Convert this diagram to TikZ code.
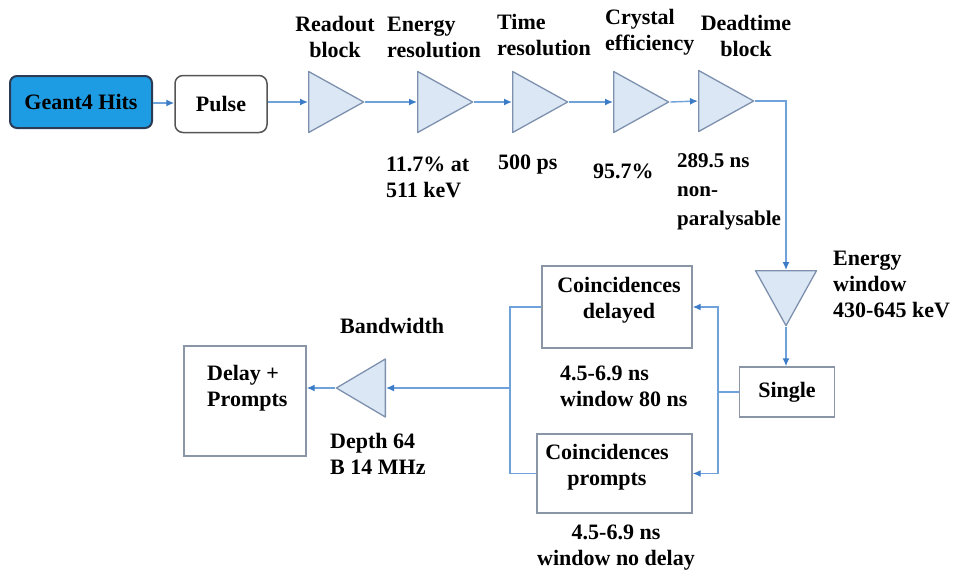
\documentclass[tikz,border=0pt]{standalone}
\usepackage{fontspec}
\setmainfont{Liberation Serif}
\usetikzlibrary{shapes.geometric,arrows.meta}
\definecolor{lineblue}{HTML}{6FA2DA}
\definecolor{headblue}{HTML}{3C7BC6}
\definecolor{trifill}{HTML}{DCE7F5}
\definecolor{tribord}{HTML}{7D90AD}
\definecolor{boxgrey}{HTML}{8A96A6}
\definecolor{geantblue}{HTML}{1E9CE3}
\definecolor{geantbord}{HTML}{2B3A55}
\definecolor{pulsebord}{HTML}{555555}
\begin{document}
\begin{tikzpicture}[x=1pt,y=-1pt,
  font=\fontsize{22}{26}\selectfont\bfseries,
  conn/.style={draw=lineblue, line width=1.4pt},
  arr/.style={conn, -{Latex[length=8pt,width=7pt,color=headblue]}},
  tri/.style={draw=tribord, fill=trifill, line width=1.3pt, isosceles triangle,
    isosceles triangle stretches, inner sep=0pt, line join=round},
  hbox/.style={draw=boxgrey, line width=1.4pt, rectangle, inner sep=0pt},
  lbl/.style={align=left, inner sep=0pt, anchor=west},
  clbl/.style={align=center, inner sep=0pt}
]
\useasboundingbox (0,0) rectangle (956,571);

% start boxes
\node[draw=geantbord, fill=geantblue, line width=2pt, rounded corners=7pt,
  minimum width=142pt, minimum height=52pt, inner sep=0pt] (g4) at (81,102) {Geant4 Hits};
\node[draw=pulsebord, line width=1.5pt, rounded corners=8pt,
  minimum width=92pt, minimum height=57pt, inner sep=0pt] (pulse) at (221,104) {Pulse};

% triangle chain
\node[tri, minimum width=61pt, minimum height=55pt, anchor=west] (t1) at (308,102) {};
\node[tri, minimum width=61pt, minimum height=55pt, anchor=west] (t2) at (417,102) {};
\node[tri, minimum width=61pt, minimum height=55pt, anchor=west] (t3) at (512,102) {};
\node[tri, minimum width=61pt, minimum height=55pt, anchor=west] (t4) at (613,102) {};
\node[tri, minimum width=61pt, minimum height=55pt, anchor=west] (t5) at (698,101) {};

% energy window triangle (pointing down)
\node[tri, shape border rotate=270, minimum width=61pt, minimum height=55pt, anchor=north] (ew) at (786,270) {};

% single
\node[hbox, minimum width=95pt, minimum height=50pt] (single) at (787,392) {Single};

% coincidence boxes
\node[hbox, minimum width=150pt, minimum height=82pt] (cd) at (617,307) {};
\node[clbl] (cdl) at (619,300) {Coincidences\\delayed};
\node[hbox, minimum width=155pt, minimum height=79pt] (cp) at (614.5,473.5) {};
\node[clbl] (cpl) at (607,467) {Coincidences\\prompts};

% bandwidth triangle (pointing left)
\node[tri, shape border rotate=180, minimum width=58pt, minimum height=49pt, anchor=east] (bw) at (386,388) {};

% delay + prompts
\node[hbox, minimum width=122pt, minimum height=110pt] (dp) at (245,401) {};
\node[lbl] (dpl) at (207,388) {Delay +\\Prompts};

% labels above
\node[clbl] (l1) at (335,37) {Readout\\block};
\node[lbl] (l2) at (387,37) {Energy\\resolution};
\node[lbl] (l3) at (497,35) {Time\\resolution};
\node[lbl] (l4) at (605,32) {Crystal\\efficiency};
\node[clbl] (l5) at (746,36) {Deadtime\\block};

% labels below
\node[lbl] (b2) at (386,177) {11.7\% at\\511 keV};
\node[lbl] (b3) at (498,165) {500 ps};
\node[lbl] (b4) at (593,171) {95.7\%};
\node[lbl, font=\fontsize{21}{29}\selectfont\bfseries] (b5) at (677,192) {289.5 ns\\non-\\paralysable};

\node[lbl] (ewl) at (833,284) {Energy\\window\\430-645 keV};
\node[lbl] (cdn) at (560,386) {4.5-6.9 ns\\window 80 ns};
\node[clbl] (cpn) at (616,548) {4.5-6.9 ns\\window no delay};
\node[lbl] (bwl) at (340,326) {Bandwidth};
\node[lbl] (bwn) at (330,454) {Depth 64\\B 14 MHz};

% connectors
\draw[arr] (g4.east |- 0,103) -- (pulse.west |- 0,103);
\draw[arr] (pulse.east |- t1.west) -- (t1.west);
\draw[arr] (t1.apex) -- (t2.west);
\draw[arr] (t2.apex) -- (t3.west);
\draw[arr] (t3.apex) -- (t4.west);
\draw[arr] (t4.apex) -- (t5.west);
\draw[arr] (t5.apex) -| (ew.north);
\draw[arr] (ew.apex) -- (single.north -| ew.apex);

\coordinate (br) at (718,392);
\draw[conn] (single.west) -- (br);
\draw[arr] (br) |- (cd.east);
\draw[arr] (br) |- (cp.east);

\coordinate (mg) at (510,388);
\draw[conn] (cd.west) -| (mg);
\draw[conn] (cp.west) -| (mg);
\draw[arr] (mg) -- (bw.east);
\draw[arr] (bw.apex) -- (bw.apex -| dp.east);
\end{tikzpicture}
\end{document}
